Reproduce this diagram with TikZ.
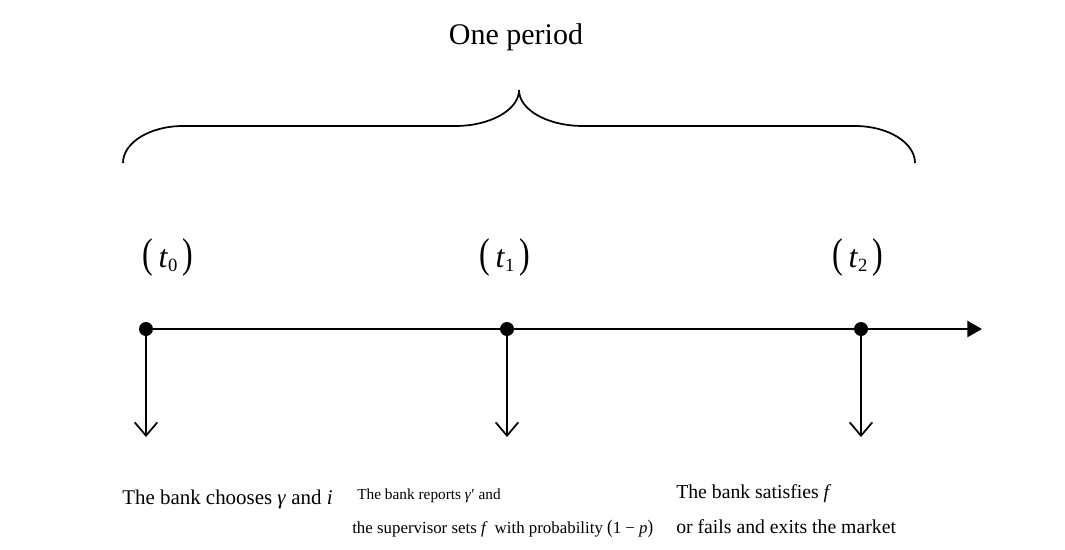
\documentclass[tikz,border=0pt]{standalone}
\usepackage{fontspec}
\setmainfont{Liberation Serif}
\usetikzlibrary{arrows.meta}
\newcommand{\tlab}[1]{\scalebox{1}[1.3]{(}\,\textit{t}\raisebox{-0.3ex}{\fontsize{14pt}{14pt}\selectfont #1}\,\scalebox{1}[1.3]{)}}
\begin{document}
\begin{tikzpicture}[x=0.75pt,y=-0.75pt,
  dot/.style={circle,fill=black,inner sep=0pt,minimum size=10.5pt},
  brace/.style={line width=1.3pt},
  timeline/.style={line width=1.9pt,-{Triangle[length=11pt,width=12pt]}},
  drop/.style={line width=1.5pt,-{Straight Barb[length=10pt,width=17pt,line width=1.3pt]}},
  tlabel/.style={font=\fontsize{24pt}{24pt}\selectfont,inner sep=0pt},
  evt/.style={anchor=base west,inner sep=0pt}]
\useasboundingbox (0,0) rectangle (1065,550);
% title
\node[anchor=base,inner sep=0pt,font=\fontsize{22.5pt}{22.5pt}\selectfont] (title) at (516,44) {One period};
% brace
\draw[brace] (123,163) .. controls (123,142.6) and (149.9,126) .. (183,126)
  -- (455,126) .. controls (490.3,126) and (519,109.9) .. (519,90)
  .. controls (519,109.9) and (547.7,126) .. (583,126)
  -- (855,126) .. controls (888.1,126) and (915,142.6) .. (915,163);
% time labels
\node[tlabel] (l0) at (168,257) {\tlab{0}};
\node[tlabel] (l1) at (505,257) {\tlab{1}};
\node[tlabel] (l2) at (858,257) {\tlab{2}};
% timeline
\node[dot] (d0) at (146,329) {};
\node[dot] (d1) at (507,329) {};
\node[dot] (d2) at (861,329) {};
\coordinate (end) at (982,329);
\draw[timeline] (d0.center) -- (end);
% drops
\coordinate (e0) at (146,437);
\coordinate (e1) at (507,437);
\coordinate (e2) at (861,437);
\draw[drop] (d0.center) -- (e0);
\draw[drop] (d1.center) -- (e1);
\draw[drop] (d2.center) -- (e2);
% events
\node[evt,font=\fontsize{15.7pt}{15.7pt}\selectfont] (t0a) at (122,504) {The bank chooses \textit{γ} and \textit{i}};
\node[evt,font=\fontsize{11.5pt}{11.5pt}\selectfont] (t1a) at (357,499) {The bank reports \textit{γ}′ and};
\node[evt,font=\fontsize{12.65pt}{12.65pt}\selectfont] (t1b) at (352,533) {the supervisor sets \textit{f}\, with probability \scalebox{1}[1.15]{(}1 − \textit{p}\scalebox{1}[1.15]{)}};
\node[evt,font=\fontsize{14.8pt}{14.8pt}\selectfont] (t2a) at (676,498) {The bank satisfies \textit{f}};
\node[evt,font=\fontsize{14.8pt}{14.8pt}\selectfont] (t2b) at (676,533) {or fails and exits the market};
\end{tikzpicture}
\end{document}
